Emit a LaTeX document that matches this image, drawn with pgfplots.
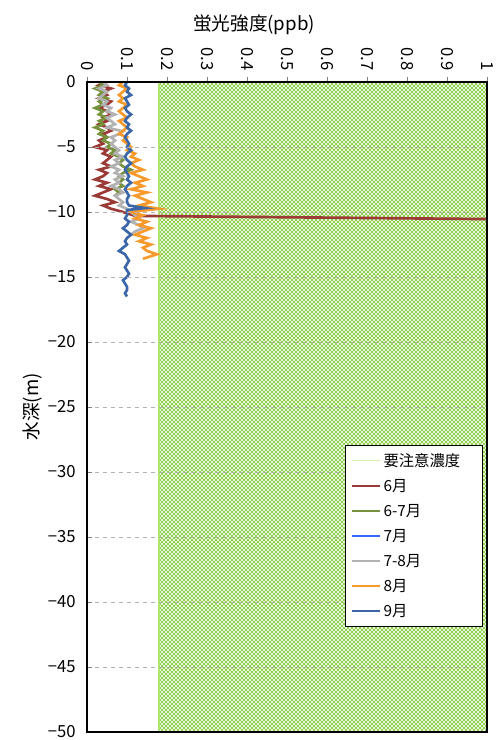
\documentclass[border=0pt]{standalone}
\usepackage{fontspec}
\setmainfont{Noto Sans CJK JP}
\usepackage{pgfplots}
\pgfplotsset{compat=1.18}
\usetikzlibrary{patterns,calc}
\pgfdeclarepatternformonly{mycross}{\pgfqpoint{-1pt}{-1pt}}{\pgfqpoint{4pt}{4pt}}{\pgfqpoint{3pt}{3pt}}{%
  \pgfsetlinewidth{0.65pt}%
  \pgfpathmoveto{\pgfqpoint{0pt}{0pt}}\pgfpathlineto{\pgfqpoint{3.1pt}{3.1pt}}%
  \pgfpathmoveto{\pgfqpoint{0pt}{3pt}}\pgfpathlineto{\pgfqpoint{3.1pt}{-0.1pt}}%
  \pgfusepath{stroke}}
\definecolor{hatchgreen}{RGB}{146,208,80}
\definecolor{hatchedge}{RGB}{176,230,110}
\definecolor{legedge}{RGB}{214,240,170}
\definecolor{cjun}{RGB}{154,59,56}
\definecolor{cjunjul}{RGB}{118,146,60}
\definecolor{cjul}{RGB}{51,102,255}
\definecolor{cjulaug}{RGB}{178,178,178}
\definecolor{caug}{RGB}{247,154,46}
\definecolor{csep}{RGB}{59,103,168}
\begin{document}
\begin{tikzpicture}
\begin{axis}[name=ax,
  scale only axis, width=300pt, height=487.5pt,
  xmin=0, xmax=1, ymin=-50, ymax=0,
  xtick={0,0.1,0.2,0.3,0.4,0.5,0.6,0.7,0.8,0.9,1},
  xticklabels={0,0.1,0.2,0.3,0.4,0.5,0.6,0.7,0.8,0.9,1},
  ytick={0,-5,-10,-15,-20,-25,-30,-35,-40,-45,-50},
  yticklabels={0,−5,−10,−15,−20,−25,−30,−35,−40,−45,−50},
  xtick pos=upper, xticklabel pos=upper, ytick pos=left,
  major tick length=4pt,
  xtick style={yshift=4pt},
  xticklabel style={rotate=-90, anchor=east},
  xticklabel shift=5pt, yticklabel shift=5pt,
  tick label style={font=\fontsize{12.5}{14}\selectfont},
  /pgf/number format/assume math mode=true,
  ymajorgrids, grid style={dashed, black!30, line width=0.5pt},
  axis line style={line width=0.9pt},
  axis on top,
  legend image code/.code={\draw[#1] (0cm,0cm) -- (0.72cm,0cm);},
  legend style={at={(0.645,0.442)}, anchor=north west, draw=black, line width=0.8pt,
    font=\fontsize{11.5}{13}\selectfont, row sep=4.2pt, inner xsep=4pt, inner ysep=4pt,
    cells={anchor=west}},
  legend cell align=left,
]
\addplot[draw=hatchedge, line width=1pt, pattern=mycross, pattern color=hatchgreen,
  legend image code/.code={\draw[legedge, line width=0.6pt] (0cm,0cm) -- (0.72cm,0cm);}]
  coordinates {(0.18,0) (0.18,-50) (1,-50) (1,0)} -- cycle;
\addlegendentry{\makebox[68pt][l]{要注意濃度}}
\addplot[cjun, line width=2pt] coordinates {
(0.05,0) (0.03,-0.25) (0.06,-0.5) (0.04,-0.75) (0.05,-1) (0.03,-1.25) (0.06,-1.5) (0.05,-1.75) (0.03,-2) (0.05,-2.25) (0.06,-2.5) (0.04,-2.75) (0.05,-3) (0.03,-3.25) (0.05,-3.5) (0.06,-3.75) (0.04,-4) (0.05,-4.25) (0.03,-4.5) (0.04,-4.75) (0.02,-5) (0.05,-5.25) (0.04,-5.5) (0.06,-5.75) (0.05,-6) (0.04,-6.25) (0.06,-6.5) (0.03,-6.75) (0.05,-7) (0.04,-7.25) (0.02,-7.5) (0.05,-7.75) (0.03,-8) (0.06,-8.25) (0.04,-8.5) (0.02,-8.75) (0.05,-9) (0.07,-9.25) (0.04,-9.5) (0.06,-9.75) (0.09,-10) (0.12,-10.3) (1.2,-10.6)};
\addlegendentry{6月}
\addplot[cjunjul, line width=2pt] coordinates {
(0.03,0) (0.04,-0.25) (0.02,-0.5) (0.04,-0.75) (0.03,-1) (0.05,-1.25) (0.03,-1.5) (0.04,-1.75) (0.02,-2) (0.04,-2.25) (0.03,-2.5) (0.05,-2.75) (0.03,-3) (0.04,-3.25) (0.02,-3.5) (0.04,-3.75) (0.03,-4) (0.05,-4.25) (0.04,-4.5) (0.06,-4.75) (0.05,-5) (0.07,-5.25) (0.06,-5.5) (0.08,-5.75) (0.09,-6) (0.08,-6.25) (0.09,-6.5) (0.11,-6.75) (0.09,-7) (0.08,-7.25) (0.09,-7.5) (0.08,-7.75) (0.09,-8) (0.07,-8.25) (0.08,-8.5) (0.07,-8.75)};
\addlegendentry{6-7月}
\addlegendimage{cjul, line width=2pt}
\addlegendentry{7月}
\addplot[cjulaug, line width=2pt] coordinates {
(0.04,0) (0.05,-0.25) (0.03,-0.5) (0.05,-0.75) (0.04,-1) (0.03,-1.25) (0.05,-1.5) (0.04,-1.75) (0.06,-2) (0.05,-2.25) (0.07,-2.5) (0.05,-2.75) (0.06,-3) (0.07,-3.25) (0.05,-3.5) (0.09,-3.8) (0.08,-4) (0.06,-4.25) (0.07,-4.5) (0.06,-4.75) (0.07,-5) (0.08,-5.25) (0.07,-5.5) (0.09,-5.75) (0.07,-6) (0.08,-6.25) (0.06,-6.5) (0.08,-6.75) (0.07,-7) (0.09,-7.25) (0.07,-7.5) (0.08,-7.75) (0.06,-8) (0.08,-8.25) (0.09,-8.5) (0.07,-8.75) (0.08,-9) (0.09,-9.25) (0.08,-9.5) (0.1,-9.75) (0.11,-10) (0.12,-10.25) (0.13,-10.5) (0.11,-10.75) (0.13,-11) (0.14,-11.25) (0.12,-11.5) (0.11,-11.75)};
\addlegendentry{7-8月}
\addplot[caug, line width=2pt] coordinates {
(0.09,0) (0.08,-0.25) (0.1,-0.5) (0.09,-0.75) (0.08,-1) (0.09,-1.25) (0.08,-1.5) (0.1,-1.75) (0.09,-2) (0.08,-2.25) (0.09,-2.5) (0.1,-2.75) (0.08,-3) (0.09,-3.25) (0.1,-3.5) (0.09,-3.75) (0.08,-4) (0.1,-4.25) (0.09,-4.5) (0.1,-4.75) (0.11,-5) (0.1,-5.25) (0.12,-5.5) (0.11,-5.75) (0.13,-6) (0.11,-6.25) (0.12,-6.5) (0.14,-6.75) (0.11,-7) (0.13,-7.25) (0.15,-7.5) (0.12,-7.75) (0.14,-8) (0.11,-8.25) (0.15,-8.5) (0.12,-8.75) (0.14,-9) (0.16,-9.25) (0.13,-9.5) (0.18,-9.75) (0.11,-10) (0.14,-10.25) (0.12,-10.5) (0.15,-10.75) (0.13,-11) (0.16,-11.25) (0.14,-11.5) (0.12,-11.75) (0.15,-12) (0.13,-12.25) (0.16,-12.5) (0.14,-12.75) (0.15,-13) (0.175,-13.25) (0.15,-13.5) (0.14,-13.6)};
\addlegendentry{8月}
\addplot[csep, line width=2pt] coordinates {
(0.1,0) (0.095,-0.25) (0.105,-0.5) (0.1,-0.75) (0.11,-1) (0.095,-1.25) (0.1,-1.5) (0.105,-1.75) (0.095,-2) (0.1,-2.25) (0.11,-2.5) (0.1,-2.75) (0.095,-3) (0.105,-3.25) (0.1,-3.5) (0.11,-3.75) (0.1,-4) (0.095,-4.25) (0.1,-4.5) (0.105,-4.75) (0.1,-5) (0.11,-5.25) (0.1,-5.5) (0.095,-5.75) (0.1,-6) (0.11,-6.25) (0.1,-6.5) (0.095,-6.75) (0.1,-7) (0.105,-7.25) (0.1,-7.5) (0.11,-7.75) (0.1,-8) (0.095,-8.25) (0.1,-8.5) (0.105,-8.75) (0.1,-9) (0.1,-9.25) (0.105,-9.5) (0.145,-9.7) (0.1,-9.85) (0.1,-10.25) (0.095,-10.5) (0.105,-10.75) (0.1,-11) (0.09,-11.25) (0.1,-11.5) (0.11,-11.75) (0.1,-12) (0.095,-12.25) (0.1,-12.5) (0.09,-12.75) (0.08,-13) (0.095,-13.25) (0.1,-13.5) (0.105,-13.75) (0.1,-14) (0.095,-14.25) (0.1,-14.5) (0.105,-14.75) (0.1,-15) (0.09,-15.25) (0.095,-15.5) (0.1,-15.75) (0.1,-16) (0.095,-16.25) (0.1,-16.5)};
\addlegendentry{9月}
\end{axis}
\node[font=\fontsize{14}{16}\selectfont] at ($(ax.north west)!0.4175!(ax.north east)+(0,42.75pt)$) {蛍光強度(ppb)};
\node[font=\fontsize{14}{16}\selectfont, rotate=90] at ($(ax.west)+(-40.5pt,0)$) {水深(m)};
\pgfresetboundingbox
\path ($(ax.south west)+(-65.25pt,-6pt)$) rectangle ($(ax.north east)+(7pt,61.5pt)$);
\end{tikzpicture}
\end{document}
